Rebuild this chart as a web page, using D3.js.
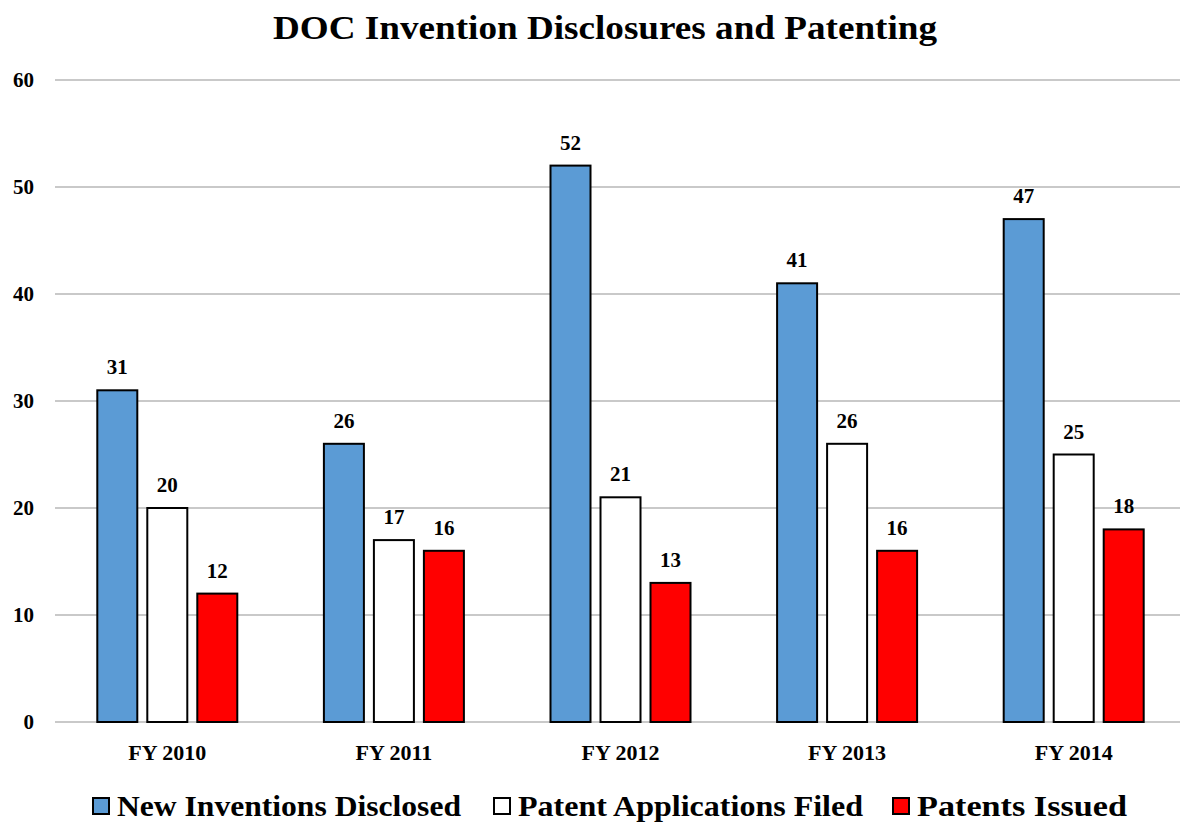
<!DOCTYPE html>
<html>
<head>
<meta charset="utf-8">
<script src="https://cdn.jsdelivr.net/npm/d3@7"></script>
<style>
  body { margin: 0; background: #fff; }
  svg { display: block; font-family: "Liberation Serif", "Times New Roman", serif; font-weight: bold; }
</style>
</head>
<body>
<div id="chart"></div>
<script>
const years = ["FY 2010", "FY 2011", "FY 2012", "FY 2013", "FY 2014"];
const seriesNames = ["New Inventions Disclosed", "Patent Applications Filed", "Patents Issued"];
const disclosed = [31, 26, 52, 41, 47];
const applications = [20, 17, 21, 26, 25];
const issued = [12, 16, 13, 16, 18];
const yTicks = [0, 10, 20, 30, 40, 50, 60];

const colors = ["#5b9bd5", "#ffffff", "#ff0000"];
const seriesValues = [disclosed, applications, issued];

const width = 1180, height = 823;
const svg = d3.select("#chart").append("svg")
    .attr("width", width)
    .attr("height", height);

// plot area
const groupW = 140;
const x0 = d3.scaleBand().domain(years).range([54, 1187]);
const x1 = d3.scaleBand().domain(seriesNames).range([0, groupW]).paddingInner(0.2);
const y = d3.scaleLinear().domain([0, 60]).range([722, 80]);

// title
svg.append("text")
    .attr("x", 605)
    .attr("y", 39)
    .attr("text-anchor", "middle")
    .style("font-size", "33px")
    .attr("textLength", 664)
    .attr("lengthAdjust", "spacingAndGlyphs")
    .text("DOC Invention  Disclosures  and  Patenting");

// gridlines
svg.append("g")
    .selectAll("line")
    .data(yTicks)
    .join("line")
    .attr("x1", 55).attr("x2", width)
    .attr("y1", d => y(d)).attr("y2", d => y(d))
    .attr("stroke", "#c9c9c9")
    .attr("stroke-width", 2);

// y labels
svg.append("g")
    .selectAll("text")
    .data(yTicks)
    .join("text")
    .attr("x", 34)
    .attr("y", d => y(d))
    .attr("dy", "0.35em")
    .attr("text-anchor", "end")
    .style("font-size", "21px")
    .text(d => d);

// bars
const groups = svg.append("g")
    .selectAll("g")
    .data(years)
    .join("g")
    .attr("transform", d => `translate(${x0(d) + (x0.bandwidth() - groupW) / 2},0)`);

groups.selectAll("rect")
    .data((d, i) => seriesNames.map((s, j) => ({ s, j, v: seriesValues[j][i] })))
    .join("rect")
    .attr("x", d => x1(d.s))
    .attr("y", d => y(d.v))
    .attr("width", x1.bandwidth())
    .attr("height", d => y(0) - y(d.v))
    .attr("fill", d => colors[d.j])
    .attr("stroke", "#000")
    .attr("stroke-width", 2);

groups.selectAll("text.val")
    .data((d, i) => seriesNames.map((s, j) => ({ s, j, v: seriesValues[j][i] })))
    .join("text")
    .attr("class", "val")
    .attr("x", d => x1(d.s) + x1.bandwidth() / 2)
    .attr("y", d => y(d.v) - 16)
    .attr("text-anchor", "middle")
    .style("font-size", "21px")
    .text(d => d.v);

// x labels
svg.append("g")
    .selectAll("text")
    .data(years)
    .join("text")
    .attr("x", d => x0(d) + x0.bandwidth() / 2)
    .attr("y", 760)
    .attr("text-anchor", "middle")
    .style("font-size", "22px")
    .text(d => d);

// legend
const legendX = [93, 494, 893];
const legendW = [344, 345, 210];
const legend = svg.append("g")
    .selectAll("g")
    .data(seriesNames)
    .join("g")
    .attr("transform", (d, i) => `translate(${legendX[i]},0)`);

legend.append("rect")
    .attr("x", 0).attr("y", 798)
    .attr("width", 16).attr("height", 16)
    .attr("fill", (d, i) => colors[i])
    .attr("stroke", "#000")
    .attr("stroke-width", 2);

legend.append("text")
    .attr("x", 24)
    .attr("y", 816)
    .style("font-size", "30px")
    .attr("textLength", (d, i) => legendW[i])
    .attr("lengthAdjust", "spacingAndGlyphs")
    .text(d => d);
</script>
</body>
</html>
